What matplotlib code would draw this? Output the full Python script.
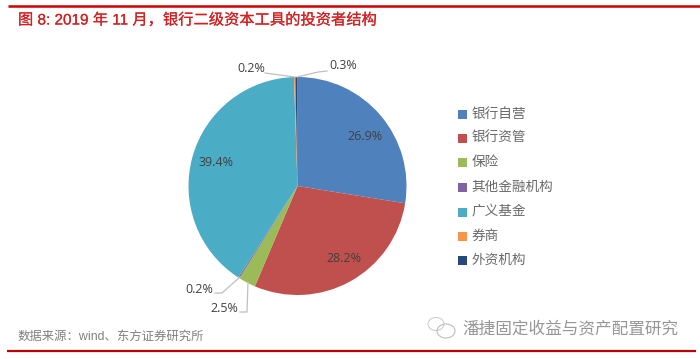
import matplotlib
matplotlib.use("Agg")
import matplotlib.pyplot as plt
import matplotlib.patheffects as pe
from matplotlib.patches import Ellipse

categories = ["银行自营", "银行资管", "保险", "其他金融机构", "广义基金", "券商", "外资机构"]
values = [26.9, 28.2, 2.5, 0.2, 39.4, 0.2, 0.3]
colors = ["#4F81BD", "#C0504D", "#9BBB59", "#8064A2", "#4BACC6", "#F79646", "#254A7A"]
title = "图 8: 2019 年 11 月，银行二级资本工具的投资者结构"
source = "数据来源：wind、东方证券研究所"
watermark = "潘捷固定收益与资产配置研究"

W, H = 700, 359
CJK = ["Liberation Sans", "Noto Sans CJK SC"]
LBL = ["Open Sans"]
fig = plt.figure(figsize=(W / 100, H / 100), dpi=100, facecolor="white")

cx, cy, r = 297.5, 186, 109
pie_ax = fig.add_axes([(cx - r) / W, 1 - (cy + r) / H, 2 * r / W, 2 * r / H], zorder=1)
pie_ax.pie(values, colors=colors, startangle=90, counterclock=False, radius=1,
           wedgeprops=dict(linewidth=0))
pie_ax.set_xlim(-1, 1)
pie_ax.set_ylim(-1, 1)
pie_ax.set_aspect("equal")

bg = fig.add_axes([0, 0, 1, 1], zorder=2)
bg.set_xlim(0, W)
bg.set_ylim(H, 0)
bg.axis("off")

red = "#C00000"
bg.plot([8, 700], [6, 6], color="#D00000", lw=1.8, solid_capstyle="butt")
bg.plot([7, 696], [350.5, 350.5], color=red, lw=1.6, solid_capstyle="butt")
bg.text(18, 20, title, color="#D42020", fontsize=11, family=CJK, va="center", ha="left",
        path_effects=[pe.withStroke(linewidth=0.12, foreground="#D42020")])
bg.text(18, 337, source, color="#808080", fontsize=8.9, family=CJK, va="center", ha="left")

# leader lines
lc = "#BFBFBF"
bg.plot([265, 295], [73, 77], color=lc, lw=0.9)
bg.plot([297, 318, 327], [77, 72, 71], color=lc, lw=0.9)
bg.plot([215, 222, 240], [293, 293, 277], color=lc, lw=0.9)
bg.plot([240, 247, 248], [312, 312, 282], color=lc, lw=0.9)

# value labels
ltext = "#404040"
for x, y, s in [(251, 68, "0.2%"), (343, 65.5, "0.3%"), (365, 136, "26.9%"),
                (216, 162, "39.4%"), (344, 258, "28.2%"), (199.5, 289.5, "0.2%"),
                (224.5, 308.5, "2.5%")]:
    bg.text(x, y, s, color=ltext, fontsize=9, family=LBL, ha="center", va="center")

# legend
ly = [114, 138, 162.5, 187, 212, 236, 260]
for y, c, name in zip(ly, colors, categories):
    bg.add_patch(plt.Rectangle((458, y - 4.5), 9, 9, color=c, lw=0))
    bg.text(471.5, y - 0.5, name, color="#6A6A6A", fontsize=9.8, family=CJK, va="center", ha="left")

# watermark
bg.text(462, 329, watermark, color="#969696", fontsize=12, family=CJK, va="center", ha="left")
bg.add_patch(Ellipse((436, 324), 16, 13, fill=False, ec="#CFCFCF", lw=0.8))
bg.add_patch(Ellipse((446, 331), 18, 14, fill=False, ec="#BDBDBD", lw=0.8))

fig.savefig("out.png", dpi=100, facecolor="white")
